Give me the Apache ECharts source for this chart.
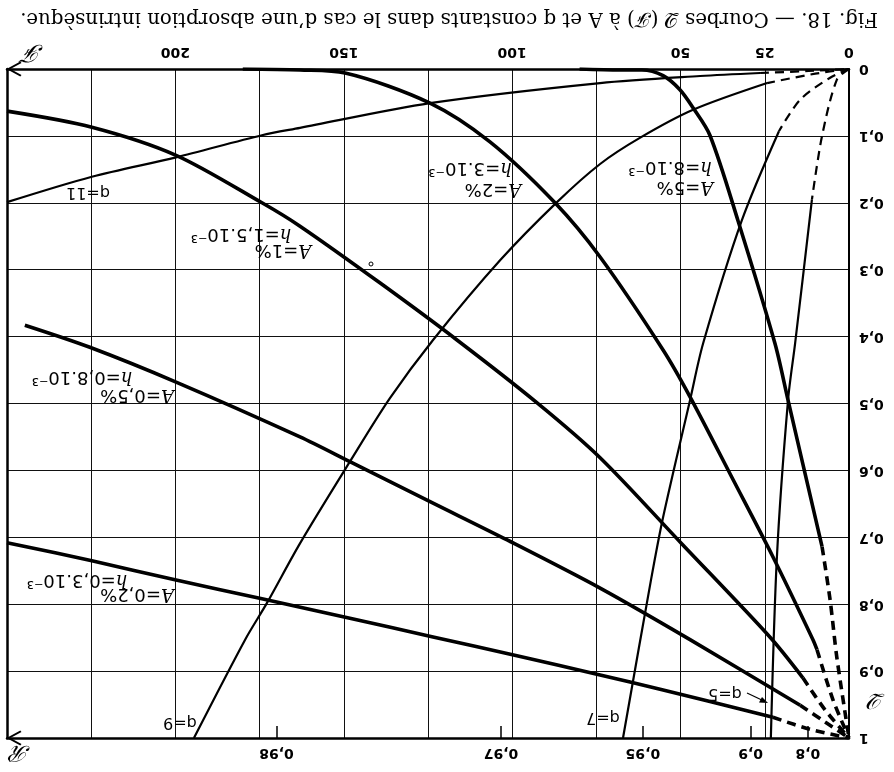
<!DOCTYPE html>
<html><head><meta charset="utf-8">
<script src="https://cdn.jsdelivr.net/npm/echarts@6/dist/echarts.min.js"></script>
<style>html,body{margin:0;padding:0;background:#fff}#c{width:894px;height:772px}</style>
</head><body><div id="c"></div>
<script>
// ---- axis ticks ----
const fTicksShown = [0, 25, 50, 100, 150, 200];
const rTickPositions = [12.2, 29.2, 61.2, 103.3, 170.0];
const rTickLabels = ['0,8', '0,9', '0,95', '0,97', '0,98'];

// ---- curves A = const (thick), points [F, Q] ----
const a5Solid = [[80,0],[68,0.0015],[61.5,0.0015],[55.2,0.01],[50.2,0.031],[46.3,0.058],[41.3,0.099],[33,0.226],[22,0.41],[18.1,0.495],[8,0.714]];
const a5Dash = [[8,0.714],[5.6,0.794],[3.6,0.88],[0,1]];
const a2Solid = [[180,0],[163,0.0015],[149.6,0.006],[124.4,0.051],[106.6,0.109],[87.3,0.2],[73.9,0.281],[55.2,0.42],[47.2,0.49],[34.4,0.614],[22.6,0.729],[10.7,0.853],[9.5,0.868]];
const a2Dash = [[9.5,0.868],[4.75,0.943],[0,1]];
const a1Solid = [[250,0.063],[224.8,0.087],[199.8,0.129],[174.3,0.2],[163,0.235],[139.2,0.32],[116.4,0.405],[92.6,0.499],[73.9,0.581],[49.6,0.71],[23.5,0.849],[13.7,0.91]];
const a1Dash = [[13.7,0.91],[7.1,0.958],[0,1]];
const a05Solid = [[244.7,0.383],[225.4,0.416],[199.8,0.468],[163,0.55],[148.2,0.587],[123.5,0.649],[101.5,0.704],[73.9,0.776],[47.2,0.853],[14.5,0.951]];
const a05Dash = [[14.5,0.951],[7.1,0.976],[0,1]];
const a02Solid = [[250,0.708],[224.8,0.735],[199.8,0.764],[174.3,0.792],[148.2,0.821],[123.5,0.849],[98.6,0.877],[73.9,0.906],[56.1,0.927],[22.6,0.969]];
const a02Dash = [[22.6,0.969],[11.6,0.987],[0,1]];

// ---- curves q = const (thin) ----
const q11Solid = [[250,0.199],[224.8,0.161],[199.8,0.132],[174.3,0.099],[163,0.088],[124.4,0.051],[73.9,0.021],[44.2,0.0105],[26.4,0.006]];
const q11Dash = [[26.4,0.006],[12,0.003],[0,0]];
const q9Solid = [[24.3,0.021],[46.3,0.061],[62.1,0.103],[73.9,0.142],[86.7,0.199],[103.6,0.286],[123.5,0.405],[136.3,0.492],[148.2,0.587],[163,0.709],[172.8,0.798],[179.3,0.853],[194.5,1]];
const q9Dash = [[0,0],[10,0.007],[24.3,0.021]];
const q7Solid = [[20.8,0.093],[31.8,0.226],[43.3,0.41],[47.2,0.495],[55.2,0.67],[58.8,0.764],[67.1,1]];
const q7Dash = [[0,0],[5.6,0.013],[14.5,0.046],[20.8,0.093]];
const q5Solid = [[11,0.195],[16,0.41],[18.1,0.495],[21.4,0.729],[23.2,1]];
const q5Dash = [[0,0],[3.6,0.016],[8,0.1],[11,0.195]];

const chevron = 'path://M5,0 L10,9.2 L9,10 L5,2.6 L1,10 L0,9.2 Z';
const tickFont = {color:'#000', fontFamily:'DejaVu Sans', fontSize:14, fontWeight:'bold'};

function seg(data, width, dashed) {
  return {type:'line', data, xAxisIndex:0, yAxisIndex:0, symbol:'none', smooth:0.3,
    silent:true, animation:false,
    lineStyle:{color:'#000', width, type: dashed ? [9,6] : 'solid', cap:'butt', join:'round'}};
}
const THICK = 3.6, THIN = 2.2;
const series = [
  seg(a5Solid, THICK), seg(a5Dash, THICK, true),
  seg(a2Solid, THICK), seg(a2Dash, THICK, true),
  seg(a1Solid, THICK), seg(a1Dash, THICK, true),
  seg(a05Solid, THICK), seg(a05Dash, THICK, true),
  seg(a02Solid, THICK), seg(a02Dash, THICK, true),
  seg(q11Solid, THIN), seg(q11Dash, THIN, true),
  seg(q9Solid, THIN), seg(q9Dash, THIN, true),
  seg(q7Solid, THIN), seg(q7Dash, THIN, true),
  seg(q5Solid, THIN), seg(q5Dash, THIN, true)
];

function nearestLabel(v) {
  let best = 0;
  rTickPositions.forEach((p, i) => { if (Math.abs(p - v) < Math.abs(rTickPositions[best] - v)) best = i; });
  return rTickLabels[best];
}

function curveLabel(x, y, text, size) {
  return {type:'text', x, y, rotation: Math.PI, z: 100, silent:true,
    style:{text, fill:'#000', fontFamily:'DejaVu Sans', fontSize:size || 18, align:'center', verticalAlign:'middle',
      rich:{it:{fontFamily:'DejaVu Serif', fontStyle:'italic', fontSize:size || 18, fill:'#000'}}}};
}

const graphics = [
  {type:'text', x:449, y:18, rotation:Math.PI, silent:true,
   style:{text:'Fig. 18. — Courbes 𝒬 (ℱ) à A et q constants dans le cas d\u2019une absorption intrinsèque.',
     fill:'#000', fontFamily:'DejaVu Serif', fontSize:19.8, align:'center', verticalAlign:'middle'}},
  curveLabel(685, 187, '{it|A}=5%'),
  curveLabel(670, 167, '{it|h}=8.10⁻³'),
  curveLabel(493, 189, '{it|A}=2%'),
  curveLabel(470, 168, '{it|h}=3.10⁻³'),
  curveLabel(283, 250, '{it|A}=1%'),
  curveLabel(241, 234, '{it|h}=1,5.10⁻³'),
  curveLabel(137, 395, '{it|A}=0,5%'),
  curveLabel(82, 377, '{it|h}=0,8.10⁻³'),
  curveLabel(137, 594, '{it|A}=0,2%'),
  curveLabel(77, 580, '{it|h}=0,3.10⁻³'),
  curveLabel(88, 192, 'q=11', 16),
  curveLabel(180, 722, 'q=9', 16),
  curveLabel(603, 717, 'q=7', 16),
  curveLabel(725, 693, 'q=5', 16),
  {type:'line', silent:true, shape:{x1:747, y1:693, x2:765, y2:701.5}, style:{stroke:'#000', lineWidth:1.2}},
  {type:'polygon', silent:true, shape:{points:[[768,703],[759,702.5],[762,697]]}, style:{fill:'#000'}},
  {type:'circle', silent:true, shape:{cx:371, cy:264, r:2}, style:{fill:'none', stroke:'#000', lineWidth:1}},
  {type:'text', x:33, y:51, rotation:Math.PI, silent:true,
   style:{text:'ℱ', fill:'#000', fontFamily:'DejaVu Serif', fontSize:24, fontStyle:'italic', align:'center', verticalAlign:'middle'}},
  {type:'text', x:20, y:752, rotation:Math.PI, silent:true,
   style:{text:'ℛ', fill:'#000', fontFamily:'DejaVu Serif', fontSize:22, fontStyle:'italic', align:'center', verticalAlign:'middle'}},
  {type:'text', x:877, y:700, rotation:Math.PI, silent:true,
   style:{text:'𝒬', fill:'#000', fontFamily:'DejaVu Serif', fontSize:22, fontStyle:'italic', align:'center', verticalAlign:'middle'}}
];

const chart = echarts.init(document.getElementById('c'));
chart.setOption({
  animation:false,
  backgroundColor:'#fff',
  grid:{left:7, right:45, top:69, bottom:34, containLabel:false},
  xAxis:[
    {type:'value', position:'top', min:0, max:250, interval:25, inverse:true,
     axisLine:{show:true, onZero:false, lineStyle:{color:'#000', width:2.5}, symbol:[chevron, 'none'], symbolSize:[18,15], symbolOffset:[7,0]},
     axisTick:{show:false},
     splitLine:{show:true, lineStyle:{color:'#111', width:1}},
     axisLabel:Object.assign({rotate:180, margin:10, formatter: v => fTicksShown.indexOf(v) >= 0 ? String(v) : ''}, tickFont)},
    {type:'value', position:'bottom', min:0, max:250, inverse:true,
     axisLine:{show:true, onZero:false, lineStyle:{color:'#000', width:2.5}, symbol:[chevron, 'none'], symbolSize:[18,15], symbolOffset:[7,0]},
     axisTick:{show:true, inside:true, length:12, customValues:rTickPositions, lineStyle:{color:'#000', width:1.5}},
     splitLine:{show:false},
     axisLabel:Object.assign({rotate:180, margin:8, customValues:rTickPositions, formatter: v => nearestLabel(v)}, tickFont)}
  ],
  yAxis:[
    {type:'value', position:'right', min:0, max:1, interval:0.1, inverse:true,
     axisLine:{show:true, onZero:false, lineStyle:{color:'#000', width:2}},
     axisTick:{show:false},
     splitLine:{show:true, lineStyle:{color:'#111', width:1}},
     axisLabel:Object.assign({rotate:180, margin:10, formatter: v => {
        const r = Math.round(v * 10) / 10;
        return r === 0 ? '0' : r === 1 ? '1' : r.toFixed(1).replace('.', ',');
     }}, tickFont)},
    {type:'value', position:'left', min:0, max:1, inverse:true,
     axisLine:{show:true, onZero:false, lineStyle:{color:'#000', width:2.5}},
     axisTick:{show:false}, axisLabel:{show:false}, splitLine:{show:false}}
  ],
  series,
  graphic: graphics
});
</script></body></html>
